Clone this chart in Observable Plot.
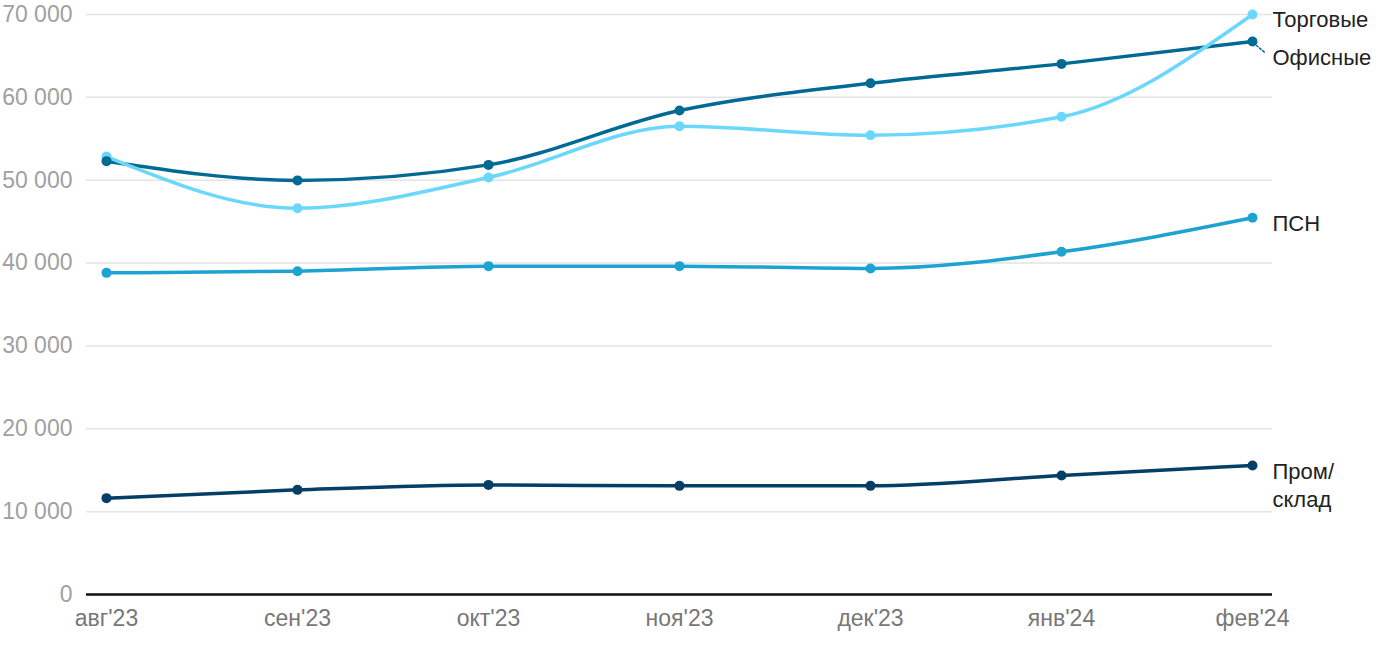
<!DOCTYPE html>
<html>
<head>
<meta charset="utf-8">
<script src="https://cdn.jsdelivr.net/npm/d3@7"></script>
<script src="https://cdn.jsdelivr.net/npm/@observablehq/plot@0.6"></script>
<style>
  html, body { margin: 0; padding: 0; background: #fff; }
  #chart { width: 1400px; height: 650px; }
  svg { font-family: "Liberation Sans", Arial, sans-serif; }
</style>
</head>
<body>
<div id="chart"></div>
<script>
const months = ["авг'23", "сен'23", "окт'23", "ноя'23", "дек'23", "янв'24", "фев'24"];
const seriesNames = ["Торговые", "Офисные", "ПСН", "Пром/склад"];
const trade = [52850, 46620, 50330, 56520, 55430, 57650, 70000];
const office = [52300, 49980, 51850, 58410, 61710, 64040, 66740];
const psn = [38820, 39020, 39630, 39630, 39350, 41360, 45460];
const industrial = [11630, 12630, 13230, 13110, 13110, 14360, 15570];
const yTicks = [0, 10000, 20000, 30000, 40000, 50000, 60000, 70000];
const colors = {
  "Торговые": "#6ad7fb",
  "Офисные": "#006a94",
  "ПСН": "#1ca3d1",
  "Пром/склад": "#053f66"
};

const valuesBy = {"Торговые": trade, "Офисные": office, "ПСН": psn, "Пром/склад": industrial};
const rows = [];
for (const s of seriesNames) valuesBy[s].forEach((v, i) => rows.push({series: s, month: months[i], value: v}));
const last = s => rows.filter(d => d.series === s && d.month === months[months.length - 1]);

const fmt = d => d3.format(",")(d).replace(/,/g, " ");
const lineOrder = ["Пром/склад", "ПСН", "Офисные", "Торговые"];
const dotOrder = ["Пром/склад", "ПСН", "Торговые", "Офисные"];

const marks = [
  Plot.gridY(yTicks.filter(t => t > 0), {stroke: "#e3e3e3", strokeOpacity: 1, strokeWidth: 1.5}),
  Plot.axisY(yTicks, {tickSize: 0, tickPadding: 14, tickFormat: fmt, fontSize: 23, fill: "#a0a0a0", label: null}),
  Plot.axisX(months, {tickSize: 0, tickPadding: 15, fontSize: 23, fill: "#777", label: null}),
  Plot.ruleY([0], {stroke: "#111", strokeWidth: 2.5}),
];
for (const s of lineOrder) {
  marks.push(Plot.line(rows.filter(d => d.series === s), {
    x: "month", y: "value", stroke: colors[s], strokeWidth: 3.5, curve: "monotone-x"
  }));
}
for (const s of dotOrder) {
  marks.push(Plot.dot(rows.filter(d => d.series === s), {
    x: "month", y: "value", fill: colors[s], r: 5
  }));
}
// leader for Офисные
marks.push(Plot.vector(last("Офисные"), {
  x: "month", y: "value", length: 10, rotate: 130, anchor: "start",
  stroke: colors["Офисные"], strokeWidth: 1.5, strokeDasharray: "2,2", dx: 4, dy: 4,
  shape: {draw(context, l) { context.moveTo(0, 0); context.lineTo(0, -l); }}
}));
const labelStyle = {x: "month", y: "value", textAnchor: "start", fontSize: 22, fill: "#222", dx: 20, lineHeight: 1.27};
marks.push(Plot.text(last("Торговые"), {...labelStyle, text: "series", dy: 4}));
marks.push(Plot.text(last("Офисные"), {...labelStyle, text: "series", dy: 15}));
marks.push(Plot.text(last("ПСН"), {...labelStyle, text: "series", dy: 4}));
marks.push(Plot.text(last("Пром/склад"), {...labelStyle, text: d => d.series.replace("/", "/\n"), dy: 19}));

const chart = Plot.plot({
  width: 1400,
  height: 650,
  marginLeft: 86,
  marginRight: 128,
  marginTop: 14,
  marginBottom: 56,
  style: {fontFamily: "'Liberation Sans', Arial, sans-serif", background: "#fff"},
  x: {type: "point", domain: months, padding: 0, insetLeft: 19, insetRight: 19},
  y: {domain: [0, 70000]},
  marks
});
document.getElementById("chart").appendChild(chart);
</script>
</body>
</html>
